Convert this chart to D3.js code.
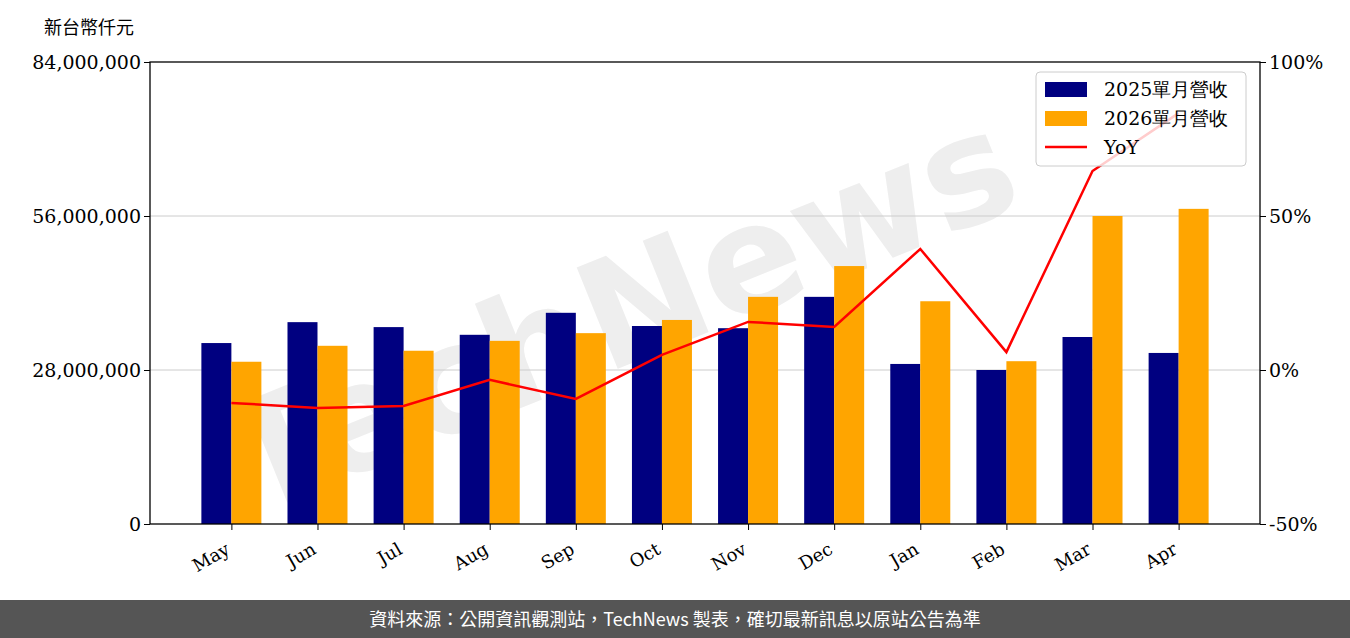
<!DOCTYPE html><html><head><meta charset="utf-8"><script src="https://cdn.jsdelivr.net/npm/d3@7"></script>
<style>body{margin:0;background:#fff}</style></head><body><svg id="c" width="1350" height="638"></svg><script>
const categories=["May","Jun","Jul","Aug","Sep","Oct","Nov","Dec","Jan","Feb","Mar","Apr"];
const rev2025=[32.9,36.7,35.8,34.4,38.4,36.0,35.6,41.3,29.1,28.0,34.0,31.1].map(v=>v*1e6);
const rev2026=[29.5,32.4,31.5,33.3,34.7,37.1,41.3,46.9,40.5,29.6,56.0,57.3].map(v=>v*1e6);
const yoy=[-10.7,-12.3,-11.7,-3.2,-9.4,4.9,15.6,14.0,39.3,5.8,64.6,83.4];
const leftTicks=[0,28e6,56e6,84e6];
const rightTicks=[-50,0,50,100];
const svg=d3.select("#c");
const L=150,R=1260,T=62,B=524;
const serif="DejaVu Serif, serif", cjk="Noto Sans CJK TC, sans-serif";
// watermark
svg.append("text").attr("x",640).attr("y",360).attr("transform","rotate(-22,640,360)").attr("text-anchor","middle")
 .attr("font-family","DejaVu Sans").attr("font-weight","bold").attr("font-size",150).attr("fill","#eee").text("TechNews");
const x=d3.scalePoint().domain(categories).range([L,R]).padding(0.945);
const y=d3.scaleLinear().domain([0,84e6]).range([B,T]);
const y2=d3.scaleLinear().domain([-50,100]).range([B,T]);
svg.append("g").selectAll("line").data([28e6,56e6]).join("line").attr("x1",L).attr("x2",R).attr("y1",d=>y(d)).attr("y2",d=>y(d)).attr("stroke","#ccc");
const bw=30;
svg.append("g").selectAll("rect").data(rev2025).join("rect").attr("x",(d,i)=>x(categories[i])-bw).attr("width",bw).attr("y",d=>y(d)).attr("height",d=>B-y(d)).attr("fill","#000080");
svg.append("g").selectAll("rect").data(rev2026).join("rect").attr("x",(d,i)=>x(categories[i])).attr("width",bw).attr("y",d=>y(d)).attr("height",d=>B-y(d)).attr("fill","#ffa500");
svg.append("path").datum(yoy).attr("fill","none").attr("stroke","red").attr("stroke-width",2.5)
 .attr("d",d3.line().x((d,i)=>x(categories[i])).y(d=>y2(d)));
svg.append("rect").attr("x",L).attr("y",T).attr("width",R-L).attr("height",B-T).attr("fill","none").attr("stroke","#000").attr("stroke-width",1.3);
const ga=svg.append("g").attr("transform",`translate(${L},0)`).call(d3.axisLeft(y).tickValues(leftTicks).tickFormat(d3.format(",")).tickSize(6));
ga.select(".domain").remove();
ga.selectAll("text").attr("font-family",serif).attr("font-size",19).attr("fill","#000");
const gb=svg.append("g").attr("transform",`translate(${R},0)`).call(d3.axisRight(y2).tickValues(rightTicks).tickFormat(d=>d+"%").tickSize(6));
gb.select(".domain").remove();
gb.selectAll("text").attr("font-family",serif).attr("font-size",19).attr("fill","#000");
const gx=svg.append("g").attr("transform",`translate(0,${B})`).call(d3.axisBottom(x).tickSize(6));
gx.select(".domain").remove();
gx.selectAll("text").attr("font-family",serif).attr("font-size",18).attr("fill","#000")
 .attr("text-anchor","end").attr("x",-15).attr("y",12).attr("dy","0.7em").attr("transform","rotate(-30)");
svg.append("text").attr("x",44).attr("y",34).attr("font-family",cjk).attr("font-size",18).text("新台幣仟元");
// legend
const lg=svg.append("g").attr("transform","translate(1036,72)");
lg.append("rect").attr("width",210).attr("height",94).attr("rx",4).attr("fill","#fff").attr("fill-opacity",0.8).attr("stroke","#ccc");
const items=[["2025單月營收","#000080","bar"],["2026單月營收","#ffa500","bar"],["YoY","red","line"]];
items.forEach((it,i)=>{const yy=17+i*29;
 if(it[2]=="bar")lg.append("rect").attr("x",9).attr("y",yy-7).attr("width",42).attr("height",15).attr("fill",it[1]);
 else lg.append("line").attr("x1",9).attr("x2",51).attr("y1",yy).attr("y2",yy).attr("stroke",it[1]).attr("stroke-width",2.5);
 lg.append("text").attr("x",68).attr("y",yy+7).attr("font-family",serif).attr("font-size",19).text(it[0]);});
svg.append("rect").attr("x",0).attr("y",600).attr("width",1350).attr("height",38).attr("fill","#555");
svg.append("text").attr("x",675).attr("y",626).attr("text-anchor","middle").attr("fill","#fff").attr("font-family",cjk).attr("font-size",18)
 .text("資料來源：公開資訊觀測站，TechNews 製表，確切最新訊息以原站公告為準");
</script></body></html>
